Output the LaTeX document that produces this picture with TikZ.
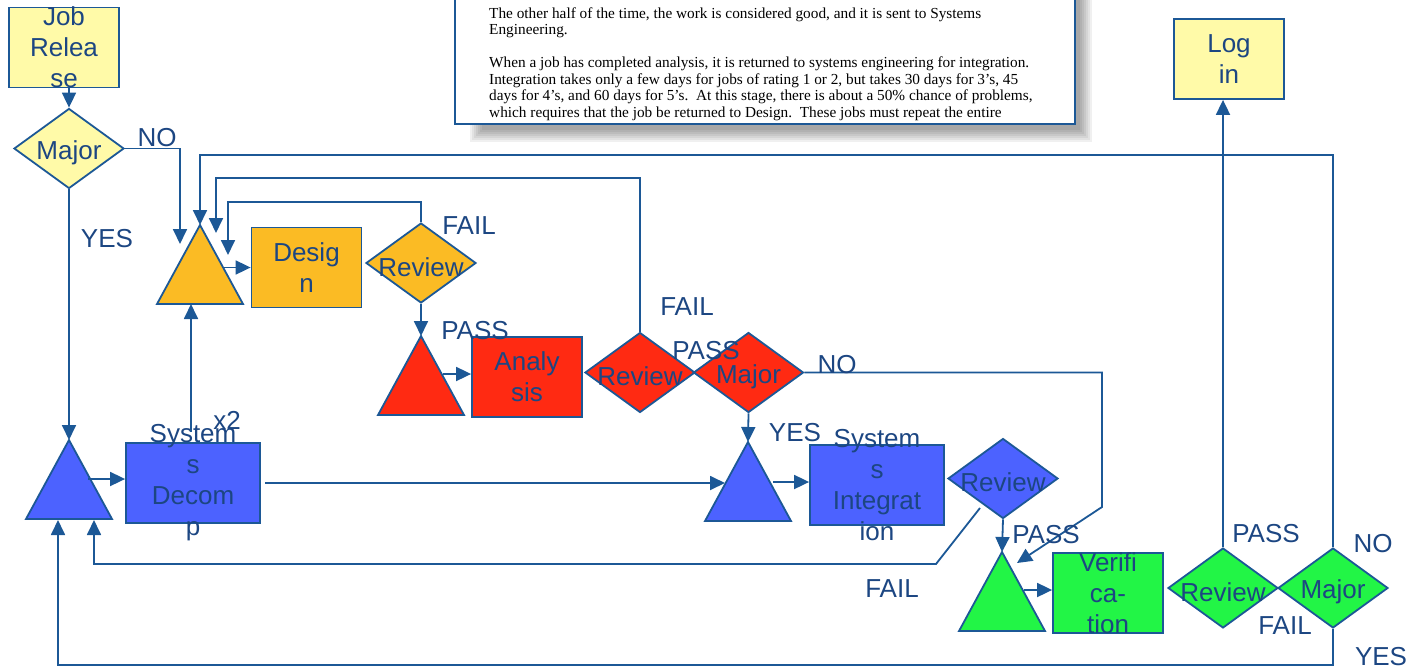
\documentclass[tikz,border=0pt]{standalone}
\usepackage{fontspec}
\setmainfont{Liberation Sans}
\newfontfamily\docfont{Liberation Serif}
\usepackage{xcolor}
\usepackage{tikz}
\usetikzlibrary{
  shapes.geometric,
  arrows.meta
}
\definecolor{lineblue}{RGB}{28,88,150}
\definecolor{textblue}{RGB}{28,70,130}
\definecolor{padyellow}{RGB}{255,250,168}
\definecolor{padorange}{RGB}{251,187,36}
\definecolor{padred}{RGB}{255,42,18}
\definecolor{padblue}{RGB}{76,98,255}
\definecolor{padgreen}{RGB}{34,245,70}

\begin{document}
\begin{tikzpicture}[%詳細設定
          x=1pt,y=-1pt,
          conn/.style={
              draw=lineblue,
              line width=1.8pt,
              -{Triangle[width=14pt,length=15pt]}
            },task/.style={
              rectangle,
              draw=lineblue,
              line width=1.8pt,
              fill=#1,
              minimum width=110pt,
              minimum height=80pt,
              inner sep=0pt
            },decide/.style={
              diamond,
              draw=lineblue,
              line width=1.8pt,
              fill=#1,
              minimum width=110pt,
              minimum height=80pt,
              inner sep=0pt
            },tri/.style={
              draw=lineblue,
              line width=1.8pt,
              fill=#1
            },txt/.style={
              text=textblue,
              font=\fontsize{26}{31}\selectfont,
              inner sep=0pt,
              align=center
            },dtxt/.style={
              txt,
              yshift=-4pt
            },doc/.style={
              font=\docfont\fontsize{15.3}{16.5}\selectfont,
              inner sep=0pt,
              anchor=base west
            }
        ]
        \useasboundingbox (0,0) rectangle (1406,667);

        % 文書の枠と影
        \foreach \d in {0,2,...,12}
          \fill[black,opacity=0.06] (470+\d,-10) rectangle (1092-\d,142-\d);
        \draw[draw=lineblue,line width=2.5pt,fill=white] (455,-10) rectangle (1075,124);
        \foreach \yb/\tx [count=\i] in {
            18/{The other half of the time, the work is considered good, and it is sent to Systems},
            34.5/{Engineering.},
            67.5/{When a job has completed analysis, it is returned to systems engineering for integration.},
            84/{Integration takes only a few days for jobs of rating 1 or 2, but takes 30 days for 3’s, 45},
            100.5/{days for 4’s, and 60 days for 5’s.\ \ At this stage, there is about a 50\% chance of problems,},
            117/{which requires that the job be returned to Design.\ \ These jobs must repeat the entire}}
          \node[doc] (doc\i) at (489,\yb) {\tx};

        % 箱
        \node[task=padyellow,label={[txt]center:{Job\\Relea\\se}}] (jobrel) at (64,47.5) {};
        \node[task=padyellow,label={[txt]center:{Log\\in}}] (login) at (1229,59) {};
        \node[task=padorange,label={[txt]center:{Desig\\n}}] (design) at (306.5,267.5) {};
        \node[task=padred,label={[txt]center:{Analy\\sis}}] (analysis) at (527,377) {};
        \node[task=padblue,minimum width=134pt,label={[txt]center:{System\\s\\Decom\\p}}] (sysdecomp) at (193,483) {};
        \node[task=padblue,minimum width=134pt,label={[txt]center:{System\\s\\Integrat\\ion}}] (sysint) at (877,485) {};
        \node[task=padgreen,label={[txt]center:{Verifi\\ca-\\tion}}] (verif) at (1108,593) {};

        % 判定
        \node[decide=padyellow,label={[dtxt]center:Major}] (major1) at (69,148.5) {};
        \node[decide=padorange,label={[dtxt]center:Review}] (revO) at (421,263) {};
        \node[decide=padred,label={[dtxt]center:Review}] (revR) at (640,372.5) {};
        \node[decide=padred,label={[dtxt]center:Major}] (majR) at (748.5,372.5) {};
        \node[decide=padblue,label={[dtxt]center:Review}] (revB) at (1003,478.5) {};
        \node[decide=padgreen,label={[dtxt]center:Review}] (revG) at (1223,588) {};
        \node[decide=padgreen,label={[dtxt]center:Major}] (majG) at (1333,588) {};

        % 三角形
        \coordinate (triY) at (200,225);
        \coordinate (triR) at (421,336);
        \coordinate (triB1) at (69,440);
        \coordinate (triB2) at (748,442);
        \coordinate (triG) at (1002,552);
        \draw[tri=padorange] (triY) -- ++(43,79) -- ++(-86,0) -- cycle;
        \draw[tri=padred] (triR) -- ++(43,79) -- ++(-86,0) -- cycle;
        \draw[tri=padblue] (triB1) -- ++(43,79) -- ++(-86,0) -- cycle;
        \draw[tri=padblue] (triB2) -- ++(43,79) -- ++(-86,0) -- cycle;
        \draw[tri=padgreen] (triG) -- ++(43,79) -- ++(-86,0) -- cycle;

        % 座標の定義
        \coordinate (inNo) at (180,244);
        \coordinate (inRevR) at (216,233);
        \coordinate (inRevO) at (228,255);
        \coordinate (loopO) at (228,202);
        \coordinate (loopR) at (216,178);
        \coordinate (loopTop) at (200,155);
        \coordinate (loopBot) at (58,665);
        \coordinate (triYout) at (223,267.5);
        \coordinate (triYbase) at (191,304);
        \coordinate (decompUp) at (191,432);
        \coordinate (triRout) at (443,374);
        \coordinate (triB1out) at (88,479);
        \coordinate (inFailB) at (94,520);
        \coordinate (inYesG) at (58,520);
        \coordinate (triB2out) at (773,482);
        \coordinate (decompOut) at (265,483);
        \coordinate (inDecomp) at (725,483);
        \coordinate (bendNo) at (1102,507);
        \coordinate (inNoR) at (1017,563);
        \coordinate (failB) at (980,508);
        \coordinate (bendFail) at (936,564);
        \coordinate (triGout) at (1024,590);

        % 矢印
        \draw[conn] (major1.north |- jobrel.south) -- (major1.north);
        \draw[conn] (major1.east) -| (inNo);
        \draw[conn] (major1.south) -- (triB1);
        \draw[conn] (decompUp) -- (triYbase);
        \draw[conn] (triYout) -- (triYout -| design.west);
        \draw[conn] (revO.north) |- (loopO) -- (inRevO);
        \draw[conn] (revO.south) -- (triR);
        \draw[conn] (triRout) -- (triRout -| analysis.west);
        \draw[conn] (revR.north) |- (loopR) -- (inRevR);
        \draw[conn] (majR.east) -| (bendNo) -- (inNoR);
        \draw[conn] (majR.south) -- (triB2);
        \draw[conn] (triB2out) -- (triB2out -| sysint.west);
        \draw[conn] (decompOut) -- (inDecomp);
        \draw[conn] (failB) -- (bendFail) -| (inFailB);
        \draw[conn] (revB.south) -- (triG);
        \draw[conn] (triGout) -- (triGout -| verif.west);
        \draw[conn] (revG.north) -- (revG.north |- login.south);
        \draw[conn] (majG.north) |- (loopTop) -- (triY);
        \draw[conn] (majG.south) |- (loopBot) -- (inYesG);
        \draw[conn] (triB1out) -- (triB1out -| sysdecomp.west);

        % ラベル
        \node[txt] (lNo1) at (157,138) {NO};
        \node[txt] (lYes1) at (107,239) {YES};
        \node[txt] (lFailO) at (469,226) {FAIL};
        \node[txt] (lPassO) at (475,331) {PASS};
        \node[txt] (lFailR) at (687,307) {FAIL};
        \node[txt] (lPassR) at (706,351) {PASS};
        \node[txt] (lNoR) at (837,365) {NO};
        \node[txt] (lYesR) at (795,433) {YES};
        \node[txt] (lPassB) at (1046,535) {PASS};
        \node[txt] (lFailB) at (892,589) {FAIL};
        \node[txt] (lx2) at (227,420) {x2};
        \node[txt] (lPassG) at (1266,534) {PASS};
        \node[txt] (lNoG) at (1373,544) {NO};
        \node[txt] (lFailG) at (1285,626) {FAIL};
        \node[txt] (lYesG) at (1381,657) {YES};

      \end{tikzpicture}
\end{document}
